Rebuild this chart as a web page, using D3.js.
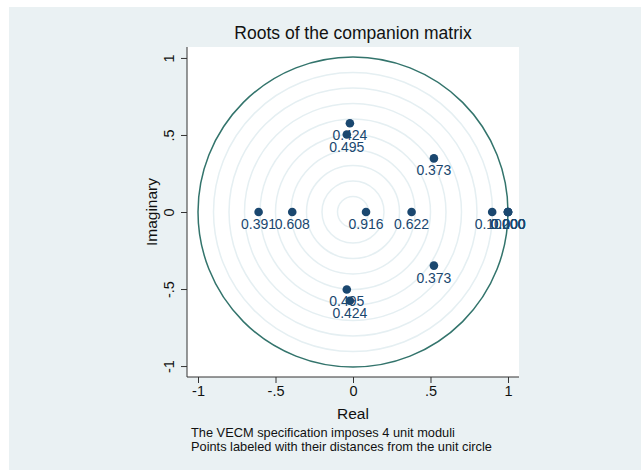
<!DOCTYPE html>
<html>
<head>
<meta charset="utf-8">
<script src="https://cdn.jsdelivr.net/npm/d3@7"></script>
<style>
  body { margin: 0; background: #fff; }
  text { font-family: "Liberation Sans", Arial, sans-serif; }
</style>
</head>
<body>
<div id="chart"></div>
<script>
// eigenvalues of the companion matrix
var realParts = [-0.609, -0.392, 0.084, 0.378, 0.898, 1, 1, 1, 1, -0.02, -0.04, 0.522, -0.02, -0.04, 0.522];
var imagParts = [0, 0, 0, 0, 0, 0, 0, 0, 0, 0.576, 0.503, 0.348, -0.576, -0.503, -0.348];
var distLabels = ["0.391", "0.608", "0.916", "0.622", "0.102", "0.000", "0.000", "0.000", "0.000",
                  "0.424", "0.495", "0.373", "0.424", "0.495", "0.373"];
var tickValues = [-1, -0.5, 0, 0.5, 1];
var tickLabels = ["-1", "-.5", "0", ".5", "1"];
var gridRadii = [0.1, 0.2, 0.3, 0.4, 0.5, 0.6, 0.7, 0.8, 0.9];
var noteLines = ["The VECM specification imposes 4 unit moduli",
                 "Points labeled with their distances from the unit circle"];

var width = 641, height = 470;
var plot = {left: 187, right: 519, top: 47, bottom: 377};
var navy = "#1a476f";

var svg = d3.select("#chart").append("svg")
  .attr("width", width)
  .attr("height", height);

// graph region
svg.append("rect")
  .attr("x", 9).attr("y", 7)
  .attr("width", width - 9).attr("height", height - 7)
  .attr("fill", "#eaf1f3");

var x = d3.scaleLinear().domain([-1.071, 1.071]).range([plot.left, plot.right]);
var y = d3.scaleLinear().domain([-1.071, 1.071]).range([plot.bottom, plot.top]);

svg.append("rect")
  .attr("x", plot.left).attr("y", plot.top)
  .attr("width", plot.right - plot.left).attr("height", plot.bottom - plot.top)
  .attr("fill", "#fff");

// grid circles
svg.append("g").selectAll("circle")
  .data(gridRadii)
  .enter().append("circle")
  .attr("cx", x(0)).attr("cy", y(0))
  .attr("r", function(d) { return x(d) - x(0); })
  .attr("fill", "none")
  .attr("stroke", "#e5eff2")
  .attr("stroke-width", 1.5);

// unit circle
svg.append("circle")
  .attr("cx", x(0)).attr("cy", y(0))
  .attr("r", x(1) - x(0))
  .attr("fill", "none")
  .attr("stroke", "#33746c")
  .attr("stroke-width", 1.5);

// Axes
var fmt = function(d) { return tickLabels[tickValues.indexOf(d)]; };

var xAxis = svg.append("g")
  .attr("transform", "translate(0," + plot.bottom + ")")
  .call(d3.axisBottom(x).tickValues(tickValues).tickFormat(fmt).tickSize(6).tickPadding(3));
xAxis.select(".domain").attr("d", "M" + plot.left + ",0H" + plot.right);
xAxis.selectAll("text").attr("font-size", 14.5).attr("fill", "#111");

var yAxis = svg.append("g")
  .attr("transform", "translate(" + plot.left + ",0)")
  .call(d3.axisLeft(y).tickValues(tickValues).tickFormat(fmt).tickSize(6));
yAxis.select(".domain").attr("d", "M0," + plot.top + "V" + plot.bottom);
yAxis.selectAll(".tick text")
  .attr("font-size", 14.5).attr("fill", "#111")
  .attr("text-anchor", "middle")
  .attr("x", null).attr("dy", null)
  .attr("transform", "translate(-18,0) rotate(-90) translate(0,5)");
svg.selectAll(".domain, .tick line").attr("stroke", "#333");

// axis titles
svg.append("text")
  .attr("x", x(0)).attr("y", 419)
  .attr("text-anchor", "middle")
  .attr("font-size", 15.5).attr("fill", "#111")
  .text("Real");
svg.append("text")
  .attr("transform", "translate(157," + y(0) + ") rotate(-90)")
  .attr("text-anchor", "middle")
  .attr("font-size", 15.5).attr("fill", "#111")
  .text("Imaginary");

// title
svg.append("text")
  .attr("x", x(0)).attr("y", 39)
  .attr("text-anchor", "middle")
  .attr("font-size", 17.5).attr("fill", "#111")
  .text("Roots of the companion matrix");

// notes
svg.append("g").selectAll("text")
  .data(noteLines)
  .enter().append("text")
  .attr("x", 191)
  .attr("y", function(d, i) { return 437 + i * 14; })
  .attr("font-size", 12.8).attr("fill", "#111")
  .text(function(d) { return d; });

// points and labels
var roots = realParts.map(function(re, i) {
  return {re: re, im: imagParts[i], label: distLabels[i]};
});

var pts = svg.append("g");
pts.selectAll("circle")
  .data(roots)
  .enter().append("circle")
  .attr("cx", function(d) { return x(d.re); })
  .attr("cy", function(d) { return y(d.im); })
  .attr("r", 4.3)
  .attr("fill", navy);

pts.selectAll("text")
  .data(roots)
  .enter().append("text")
  .attr("x", function(d) { return x(d.re); })
  .attr("y", function(d) { return y(d.im) + 17; })
  .attr("text-anchor", "middle")
  .attr("font-size", 14)
  .attr("fill", navy)
  .text(function(d) { return d.label; });
</script>
</body>
</html>
